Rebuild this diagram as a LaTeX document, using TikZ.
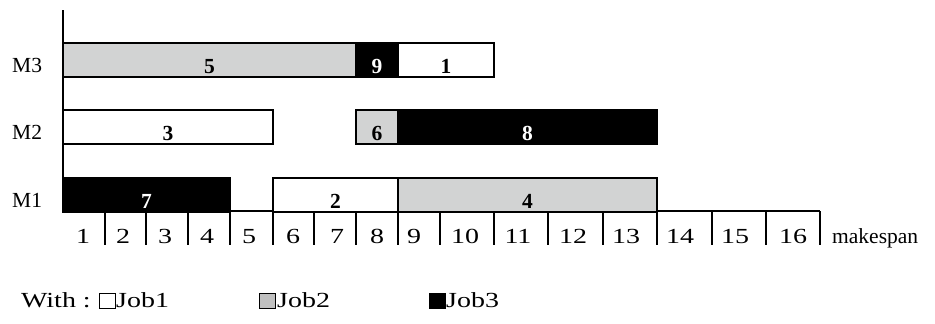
\documentclass[tikz,border=0pt]{standalone}
\usepackage{graphicx}
\usepackage{fontspec}
\setmainfont{Liberation Serif}
\definecolor{jobgrey}{RGB}{210,211,211}
\definecolor{keygrey}{RGB}{192,192,192}

% one task bar: name, x-start, x-end, top y, style, job number
\newcommand\jobbar[6]{%
  \node[#5, minimum width={(#3-#2)*1pt}] (#1) at ({(#2+#3)/2},{#4+17}) {};
  \node[tasklabel, #5text] (#1t) at ([yshift=5pt]#1.south) {#6};
}
% horizontally widened text used on the time scale and in the key
\newcommand\wide[1]{\scalebox{1.3}[1]{#1}}

\begin{document}
\begin{tikzpicture}[x=1pt, y=-1pt,
  txt/.style={font=\fontsize{21.5}{24}\selectfont, inner sep=0pt, anchor=base},
  tasklabel/.style={txt, font=\fontsize{21.5}{24}\selectfont\bfseries},
  task/.style={draw=black, line width=2pt, minimum height=34pt, inner sep=0pt},
  jobA/.style={task, fill=white},
  jobB/.style={task, fill=jobgrey},
  jobC/.style={task, fill=black},
  jobAtext/.style={text=black},
  jobBtext/.style={text=black},
  jobCtext/.style={text=white},
  axis/.style={line width=2pt},
  key/.style={draw=black, line width=0.8pt, minimum width=16pt, minimum height=15pt, inner sep=0pt}
]
\useasboundingbox (0,0) rectangle (935,324);

% machine axis
\coordinate (top) at (63,10);
\coordinate (origin) at (63,211);
\draw[axis] (top) -- (origin);

% machine labels
\node[txt, anchor=base west] (lm3) at (12,72) {M3};
\node[txt, anchor=base west] (lm2) at (12,139) {M2};
\node[txt, anchor=base west] (lm1) at (12,207) {M1};

% time scale
\coordinate (tend) at (820,211);
\draw[axis] (origin) -- (tend);
\foreach \x in {105,146,188,230,273,314,356,398,440,494,548,603,657,712,766,820}
  \draw[axis] (\x,211) -- (\x,245);
\foreach \c/\n in {83/1,123/2,165/3,207/4,249/5,293/6,337/7,377/8,414/9,465/10,518/11,573/12,626/13,680/14,735/15,793/16}
  \node[txt] (t\n) at (\c,243) {\wide{\n}};
\node[txt, anchor=base west] (mk) at (832,243) {makespan};

% machine M3
\jobbar{mthreea}{63}{356}{43}{jobB}{5}
\jobbar{mthreeb}{356}{398}{43}{jobC}{9}
\jobbar{mthreec}{398}{494}{43}{jobA}{1}

% machine M2
\jobbar{mtwoa}{63}{273}{110}{jobA}{3}
\jobbar{mtwob}{356}{398}{110}{jobB}{6}
\jobbar{mtwoc}{398}{657}{110}{jobC}{8}

% machine M1
\jobbar{monea}{63}{230}{178}{jobC}{7}
\jobbar{moneb}{273}{398}{178}{jobA}{2}
\jobbar{monec}{398}{657}{178}{jobB}{4}

% legend
\node[txt, anchor=base west] (with) at (21,307) {\wide{With :}};
\node[key, fill=white] (k1) at (107.5,300.5) {};
\node[txt, anchor=base west] (l1) at (116,307) {\wide{Job1}};
\node[key, fill=keygrey] (k2) at (267.5,300.5) {};
\node[txt, anchor=base west] (l2) at (277,307) {\wide{Job2}};
\node[key, fill=black] (k3) at (437.5,300.5) {};
\node[txt, anchor=base west] (l3) at (446,307) {\wide{Job3}};
\end{tikzpicture}
\end{document}
